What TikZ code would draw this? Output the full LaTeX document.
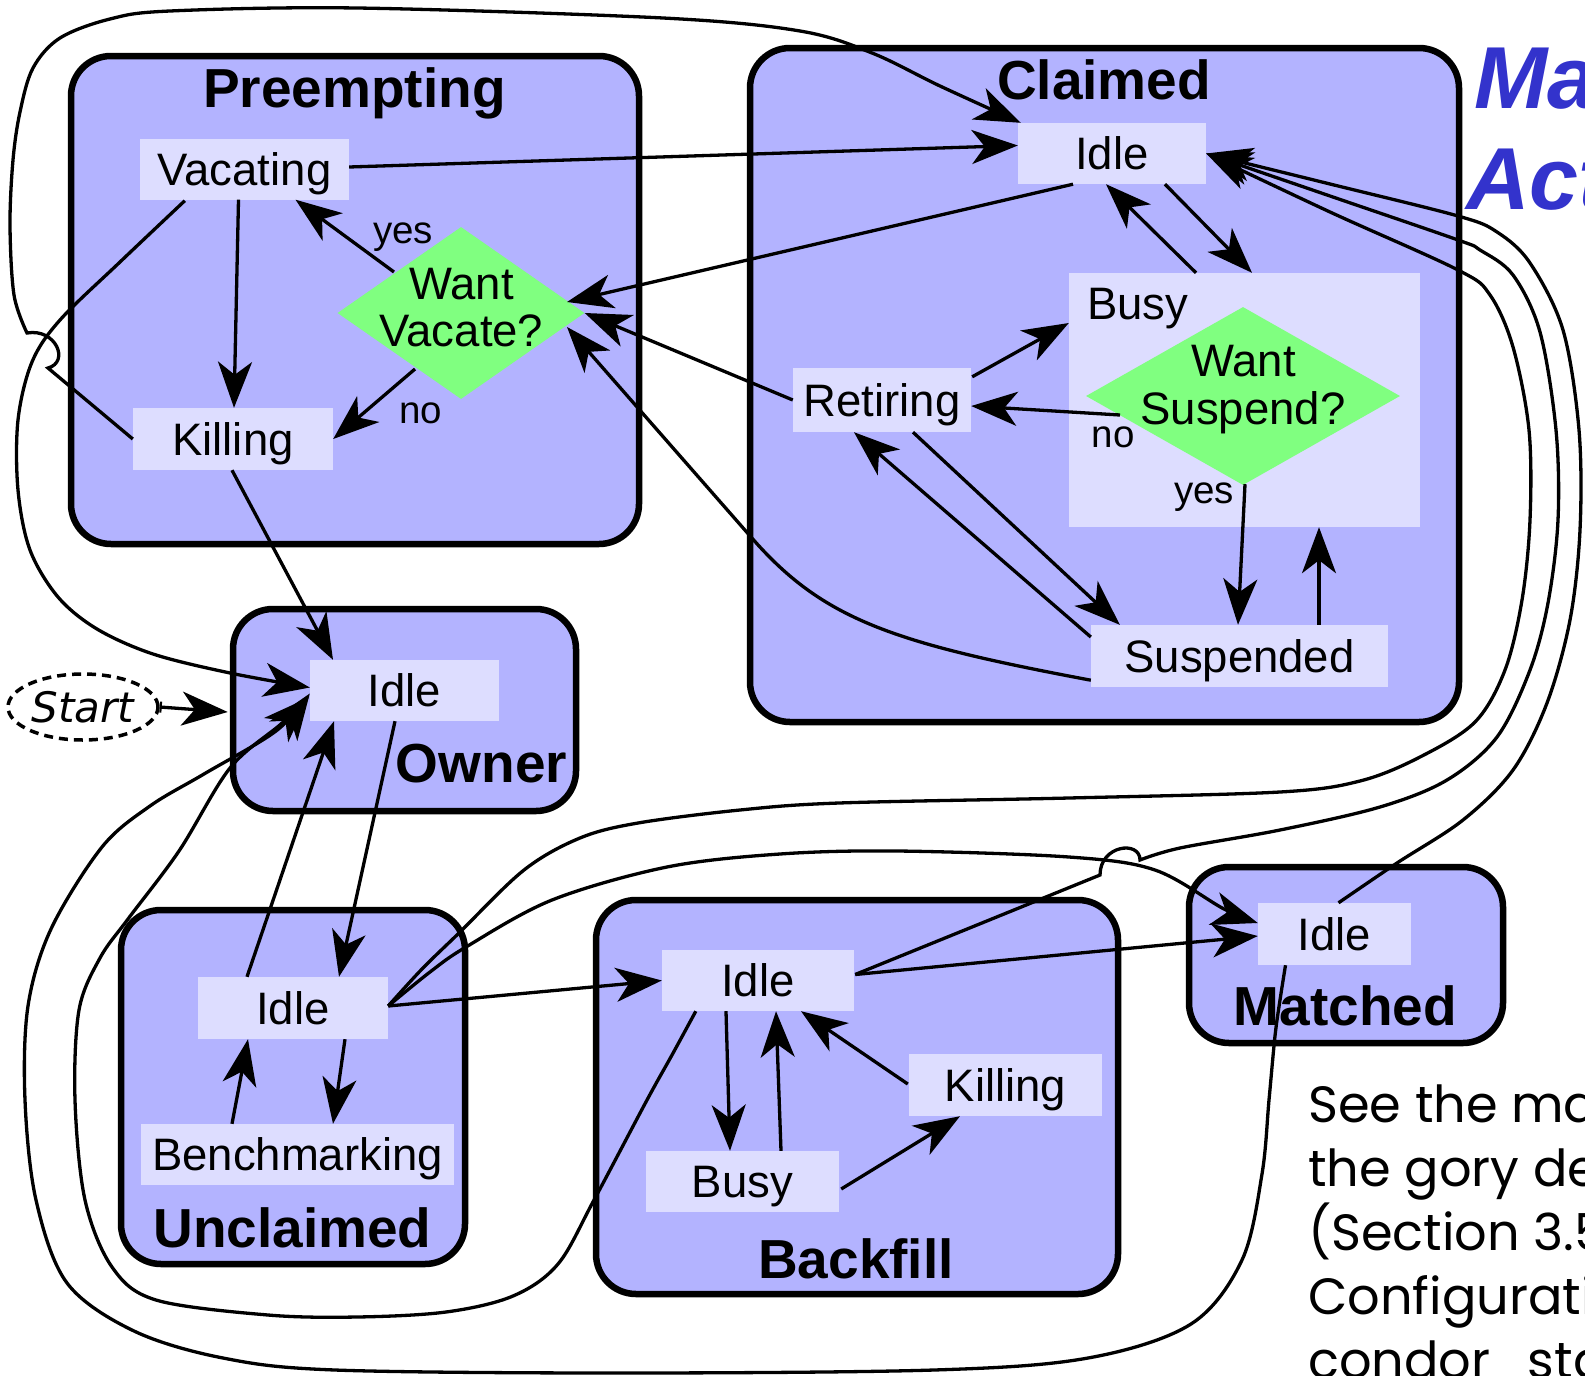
\documentclass[tikz,border=0pt]{standalone}
\usepackage{fontspec}
\setmainfont{Liberation Sans}
\newfontfamily\notefont{Poppins}
\newfontfamily\startfont{DejaVu Sans}
\usetikzlibrary{arrows.meta,shapes.geometric,calc}
\definecolor{boxfill}{HTML}{B3B3FF}
\definecolor{stfill}{HTML}{DDDDFF}
\definecolor{dgreen}{HTML}{80FF80}
\definecolor{ttlblue}{HTML}{3333CC}
\tikzset{
  bigbox/.style={draw=black, line width=6.5pt, fill=boxfill, rounded corners=40pt, inner sep=0pt},
  stbox/.style={rectangle, fill=stfill, inner sep=0pt, font=\fontsize{45.5}{50}\selectfont, text height=32.5pt, text depth=0pt},
  dia/.style={diamond, fill=dgreen, inner sep=0pt},
  ttl/.style={anchor=base, inner sep=0pt, font=\fontsize{55}{60}\selectfont\bfseries},
  lbl/.style={anchor=base, inner sep=0pt, font=\fontsize{38.5}{42}\selectfont},
  dtxt/.style={anchor=base, inner sep=0pt, font=\fontsize{45.5}{50}\selectfont},
  tipstyle/.style={-{Stealth[length=46pt,width=34pt,inset=13pt]}},
  con/.style={line width=3.3pt, tipstyle},
  notetxt/.style={anchor=base west, inner sep=0pt, font=\notefont\fontsize{51}{64}\selectfont},
  bluetxt/.style={anchor=base west, inner sep=0pt, text=ttlblue, font=\fontsize{88}{90}\selectfont\bfseries\itshape},
}
\begin{document}
\begin{tikzpicture}[x=1pt,y=-1pt]
\fill[white] (0,0) rectangle (1585,1376);
\useasboundingbox (0,0) rectangle (1585,1376);

% big state boxes
\node[bigbox, minimum width=568, minimum height=488] (boxP) at (355,300) {};
\node[bigbox, minimum width=709, minimum height=674] (boxC) at (1104.5,385) {};
\node[bigbox, minimum width=343, minimum height=202] (boxO) at (404.5,710) {};
\node[bigbox, minimum width=344, minimum height=354] (boxU) at (293,1087) {};
\node[bigbox, minimum width=522, minimum height=394] (boxB) at (857,1097) {};
\node[bigbox, minimum width=314, minimum height=176] (boxM) at (1346,955) {};

% titles
\node[ttl] (tP) at (354.5,107) {Preempting};
\node[ttl] (tC) at (1104,99) {Claimed};
\node[ttl] (tO) at (481.5,782) {Owner};
\node[ttl] (tU) at (292.5,1247) {Unclaimed};
\node[ttl] (tB) at (856,1278) {Backfill};
\node[ttl] (tM) at (1345.5,1025) {Matched};

% activity nodes
\node[stbox, minimum width=209, minimum height=61] (vacP) at (244.5,169) {Vacating};
\node[stbox, minimum width=200, minimum height=62] (killP) at (233,439) {Killing};
\node[dia, minimum width=247, minimum height=172] (wv) at (461,313) {};
\node[dtxt] (wvA) at (461.5,299) {Want};
\node[dtxt] (wvB) at (461.5,346) {Vacate?};

\node[stbox, minimum width=188, minimum height=61] (idleC) at (1112,153.5) {Idle};
\node[stbox, minimum width=351, minimum height=254] (busyC) at (1244.5,400) {};
\node[dtxt, anchor=base west] (busyT) at (1087,319) {Busy};
\node[dia, minimum width=314, minimum height=178] (ws) at (1243,396) {};
\node[dtxt] (wsA) at (1243.5,376) {Want};
\node[dtxt] (wsB) at (1243,424) {Suspend?};
\node[stbox, minimum width=178, minimum height=64] (retC) at (882,400) {Retiring};
\node[stbox, minimum width=297, minimum height=62] (suspC) at (1239.5,656) {Suspended};

\node[stbox, minimum width=189, minimum height=61] (idleO) at (404.5,690.5) {Idle};
\node[ellipse, draw, line width=3.5pt, dash pattern=on 9pt off 6pt, minimum width=150, minimum height=66, inner sep=0pt,
      font=\startfont\itshape\fontsize{42}{44}\selectfont] (start) at (83,707) {Start};

\node[stbox, minimum width=190, minimum height=62] (idleU) at (293,1008) {Idle};
\node[stbox, minimum width=313, minimum height=61] (benchU) at (297.5,1154.5) {Benchmarking};

\node[stbox, minimum width=192, minimum height=61] (idleB) at (758,980.5) {Idle};
\node[stbox, minimum width=193, minimum height=61] (busyB) at (742.5,1181.5) {Busy};
\node[stbox, minimum width=193, minimum height=62] (killB) at (1005.5,1085) {Killing};

\node[stbox, minimum width=153, minimum height=62] (idleM) at (1334.5,934) {Idle};

% branch labels
\node[lbl] (lyes1) at (403,243) {yes};
\node[lbl] (lno1) at (420.5,423) {no};
\node[lbl] (lno2) at (1113,447) {no};
\node[lbl] (lyes2) at (1204,503) {yes};

% side texts
\node[bluetxt] (tMa) at (1474,108) {Ma};
\node[bluetxt] (tAct) at (1466,209) {Act};
\node[notetxt] (n1) at (1308,1122) {See the ma};
\node[notetxt] (n2) at (1308,1186) {the gory de};
\node[notetxt] (n3) at (1308,1250) {(Section 3.5};
\node[notetxt] (n4) at (1308,1314) {Configurati};
\node[notetxt] (n5) at (1308,1378) {condor\_sta};

% ---------- connectors ----------
% Preempting
\draw[con] ($(vacP.east)+(0,-2)$) -- ($(idleC.west)+(0,-8)$);
\draw[con] ($(wv.center)+(-67,-41)$) -- ($(vacP.south)+(51,0)$);
\draw[con] ($(wv.center)+(-46,56)$) -- (killP.east);
\draw[con] ($(vacP.south)+(-6,0)$) -- ($(killP.north)+(1,0)$);
\draw[con] ($(killP.south)+(-1,0)$) -- ($(idleO.north)+(-71.5,0)$);
\draw[con] plot[smooth,tension=0.55] coordinates {($(vacP.south west)+(45,1)$) (120,262) (60,320) (32,362) (18,420) (18,490) (30,550) (58,597) (97,629) (153,654) (230,673) ($(idleO.west)+(0,-3)$)};
\draw[con] (killP.west) -- (48,368) .. controls (70,362) and (56,328) .. (27,333)
  -- plot[smooth,tension=0.55] coordinates {(27,333) (14,295) (10,225) (13,160) (20,112) (33,68) (60,38) (110,19) (170,11) (357,8) (663,18) (800,31) (872,53) (940,86) ($(idleC.north west)+(3,0)$)};

% Claimed
\draw[con] ($(idleC.south)+(-39,0)$) -- ($(wv.center)+(106,-11)$);
\draw[con] (retC.west) -- (wv.east);
\draw[con] ($(suspC.south west)+(0,-7)$) .. controls (893,643) and (823,620) .. (751,537) -- ($(wv.center)+(106,14)$);
\draw[con] ($(idleC.south)+(53,0)$) -- ($(busyC.north)+(7.5,0)$);
\draw[con] ($(busyC.north)+(-48.5,0)$) -- ($(idleC.south)+(-6,0)$);
\draw[con] ($(retC.north east)+(1,9)$) -- ($(busyC.west)+(0,-77)$);
\draw[con] ($(ws.center)+(-123,19)$) -- ($(retC.east)+(0,6)$);
\draw[con] ($(ws.south)+(2,-1)$) -- ($(suspC.north)+(-1.5,0)$);
\draw[con] ($(suspC.north)+(79.5,0)$) -- ($(busyC.south)+(74.5,0)$);
\draw[con] ($(retC.south)+(31,0)$) -- ($(suspC.north west)+(29,0)$);
\draw[con] ($(suspC.west)+(0,-19)$) -- ($(retC.south)+(-28,0)$);

% Owner / Unclaimed
\draw[line width=3.3pt, {Bar[width=11pt,line width=2pt]}-{Stealth[length=46pt,width=34pt,inset=13pt]}] (start.east) -- ($(boxO.west)+(-2,2)$);
\draw[con] ($(idleO.south)+(-9.5,0)$) -- ($(idleU.north)+(46,0)$);
\draw[con] ($(idleU.north)+(-46,0)$) -- ($(idleO.south)+(-70.5,0)$);
\draw[con] ($(idleU.south)+(52,0)$) -- ($(benchU.north)+(35.5,0)$);
\draw[con] ($(benchU.north)+(-65.5,0)$) -- ($(idleU.south)+(-45,0)$);
\draw[con] ($(idleU.east)+(0,-2)$) -- (idleB.west);
\draw[con] plot[smooth,tension=0.55] coordinates {($(idleU.east)+(0,-2)$) (422,969) (459,933) (524,870) (580,838) (638,823) (740,810) (839,803) (1069,798) (1280,792) (1360,781) (1420,757) (1475,722) (1505,670) (1522,600) (1530,520) (1529,430) (1513,347) (1490,295) (1458,270) (1330,212) (idleC.east)};
\draw[con] plot[smooth,tension=0.55] coordinates {($(idleU.east)+(0,-2)$) (430,972) (466,947) (552,900) (667,867) (780,854) (897,851) (1069,857) (1155,870) (1224,909) ($(idleM.west)+(0,-11)$)};

% Backfill
\draw[con] ($(idleB.east)+(1,-6)$) -- ($(idleM.west)+(0,2)$);
\draw[con] ($(idleB.east)+(1,-6)$) -- (1100,875) .. controls (1100,845) and (1140,840) .. (1140,860)
  -- plot[smooth,tension=0.55] coordinates {(1140,860) (1180,848) (1280,830) (1380,807) (1447,780) (1497,737) (1530,670) (1548,603) (1558,520) (1556,430) (1540,332) (1513,275) (1480,250) (1458,240) (1330,196) (idleC.east)};
\draw[con] ($(idleB.south)+(-32,0)$) -- ($(busyB.north)+(-12.5,0)$);
\draw[con] ($(busyB.north)+(38.5,0)$) -- ($(idleB.south)+(18,0)$);
\draw[con] ($(busyB.east)+(2,7.5)$) -- ($(killB.south)+(-45.5,0)$);
\draw[con] ($(killB.west)+(-1,-1)$) -- ($(idleB.south)+(43,0)$);
\draw[con] plot[smooth,tension=0.55] coordinates {($(idleB.south west)+(34,0)$) (672,1055) (647,1100) (594,1200) (558,1264) (513,1296) (446,1312) (357,1317) (268,1315) (156,1300) (112,1267) (85,1200) (75,1100) (79,1010) (100,958) (128,919) (179,851) (230,768) (281,724) ($(idleO.west)+(-1,7)$)};

% Matched
\draw[con] plot[smooth,tension=0.55] coordinates {($(idleM.north)+(4,0)$) (1397,863) (1463,820) (1513,770) (1547,703) (1570,620) (1580,530) (1579,430) (1563,330) (1530,263) (1497,232) (1458,216) (1330,184) (idleC.east)};
\draw[con] plot[smooth,tension=0.55] coordinates {($(idleM.south)+(-49,0)$) (1280,1000) (1275,1036) (1269,1100) (1262,1174) (1242,1260) (1191,1324) (1088,1358) (934,1370) (620,1373) (335,1370) (223,1358) (134,1331) (67,1283) (36,1200) (25,1100) (28,1006) (51,929) (102,847) (150,806) (204,774) (276,731) ($(idleO.west)+(0,3)$)};
\end{tikzpicture}
\end{document}
